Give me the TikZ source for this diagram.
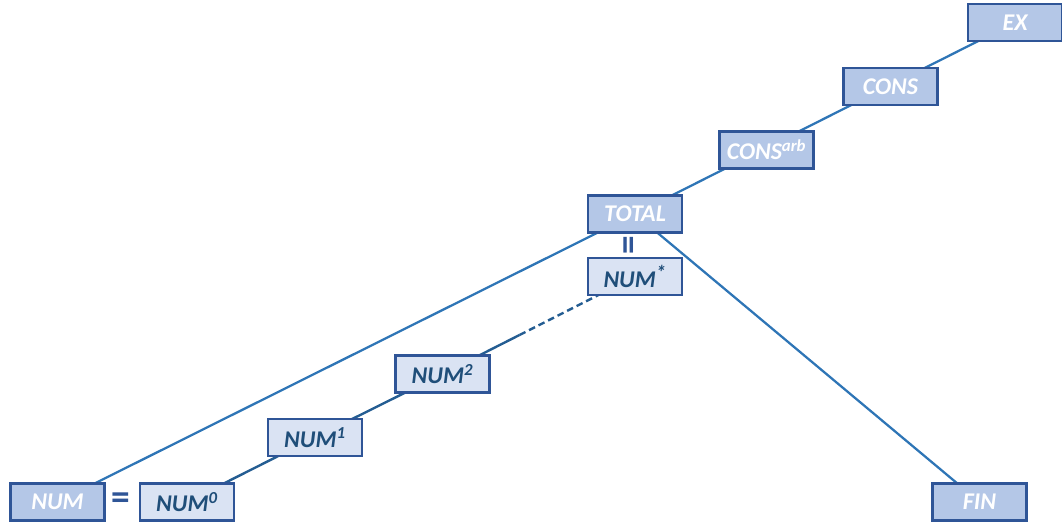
\documentclass[tikz,border=0pt]{standalone}
\usepackage{fontspec}
\setmainfont{Carlito}
\usetikzlibrary{calc,backgrounds}
\definecolor{darkfill}{HTML}{B4C7E7}
\definecolor{lightfill}{HTML}{DAE3F3}
\definecolor{bordc}{HTML}{2F5597}
\definecolor{linec}{HTML}{2E75B6}
\definecolor{chainc}{HTML}{245D92}
\definecolor{txtdark}{HTML}{1F4E79}
\begin{document}
\begin{tikzpicture}[x=0.75pt,y=-0.75pt,
  box/.style={draw=bordc, line width=1.9pt, minimum width=70.5pt, minimum height=27.75pt,
    inner sep=0pt, font=\fontsize{18}{21}\selectfont\bfseries\itshape},
  darkbox/.style={box, fill=darkfill, text=white},
  lightbox/.style={box, fill=lightfill, text=txtdark},
  conn/.style={draw=linec, line width=1.7pt},
  chain/.style={draw=chainc, line width=1.8pt},
  eqsign/.style={text=bordc, font=\fontsize{28}{30}\selectfont\bfseries, inner sep=0pt}]
\useasboundingbox (0,0) rectangle (1062,524);
\node[darkbox] (ex) at (1015,22.5) {EX};
\node[darkbox] (cons) at (890.5,86.5) {CONS};
\node[darkbox] (consarb) at (766.5,150) {CONS\textsuperscript{arb}};
\node[darkbox] (total) at (635,214) {TOTAL};
\node[lightbox] (numstar) at (635,276.5) {NUM\textsuperscript{\fontsize{15}{15}\selectfont*}};
\node[lightbox] (num2) at (442.5,374) {NUM\textsuperscript{2}};
\node[lightbox] (num1) at (315,437.5) {NUM\textsuperscript{1}};
\node[lightbox] (num0) at (187,502) {NUM\textsuperscript{0}};
\node[darkbox] (num) at (57.5,502) {NUM};
\node[darkbox] (fin) at (979.5,502) {FIN};
\node[eqsign] (eqh) at (121,501) {=};
\node[eqsign, rotate=90] (eqv) at (632,245) {=};
\coordinate (mid) at ($(num2.center)!0.4!(numstar.center)$);
\begin{scope}[on background layer]
  \draw[conn] (total.center) -- (ex.center);
  \draw[conn] (num.center) -- (total.center);
  \draw[conn] (total.center) -- (fin.center);
  \draw[chain] (num0.center) -- (num1.center) -- (num2.center) -- (mid);
  \draw[chain, dash pattern=on 5pt off 3pt] (mid) -- (numstar.center);
\end{scope}
\end{tikzpicture}
\end{document}
